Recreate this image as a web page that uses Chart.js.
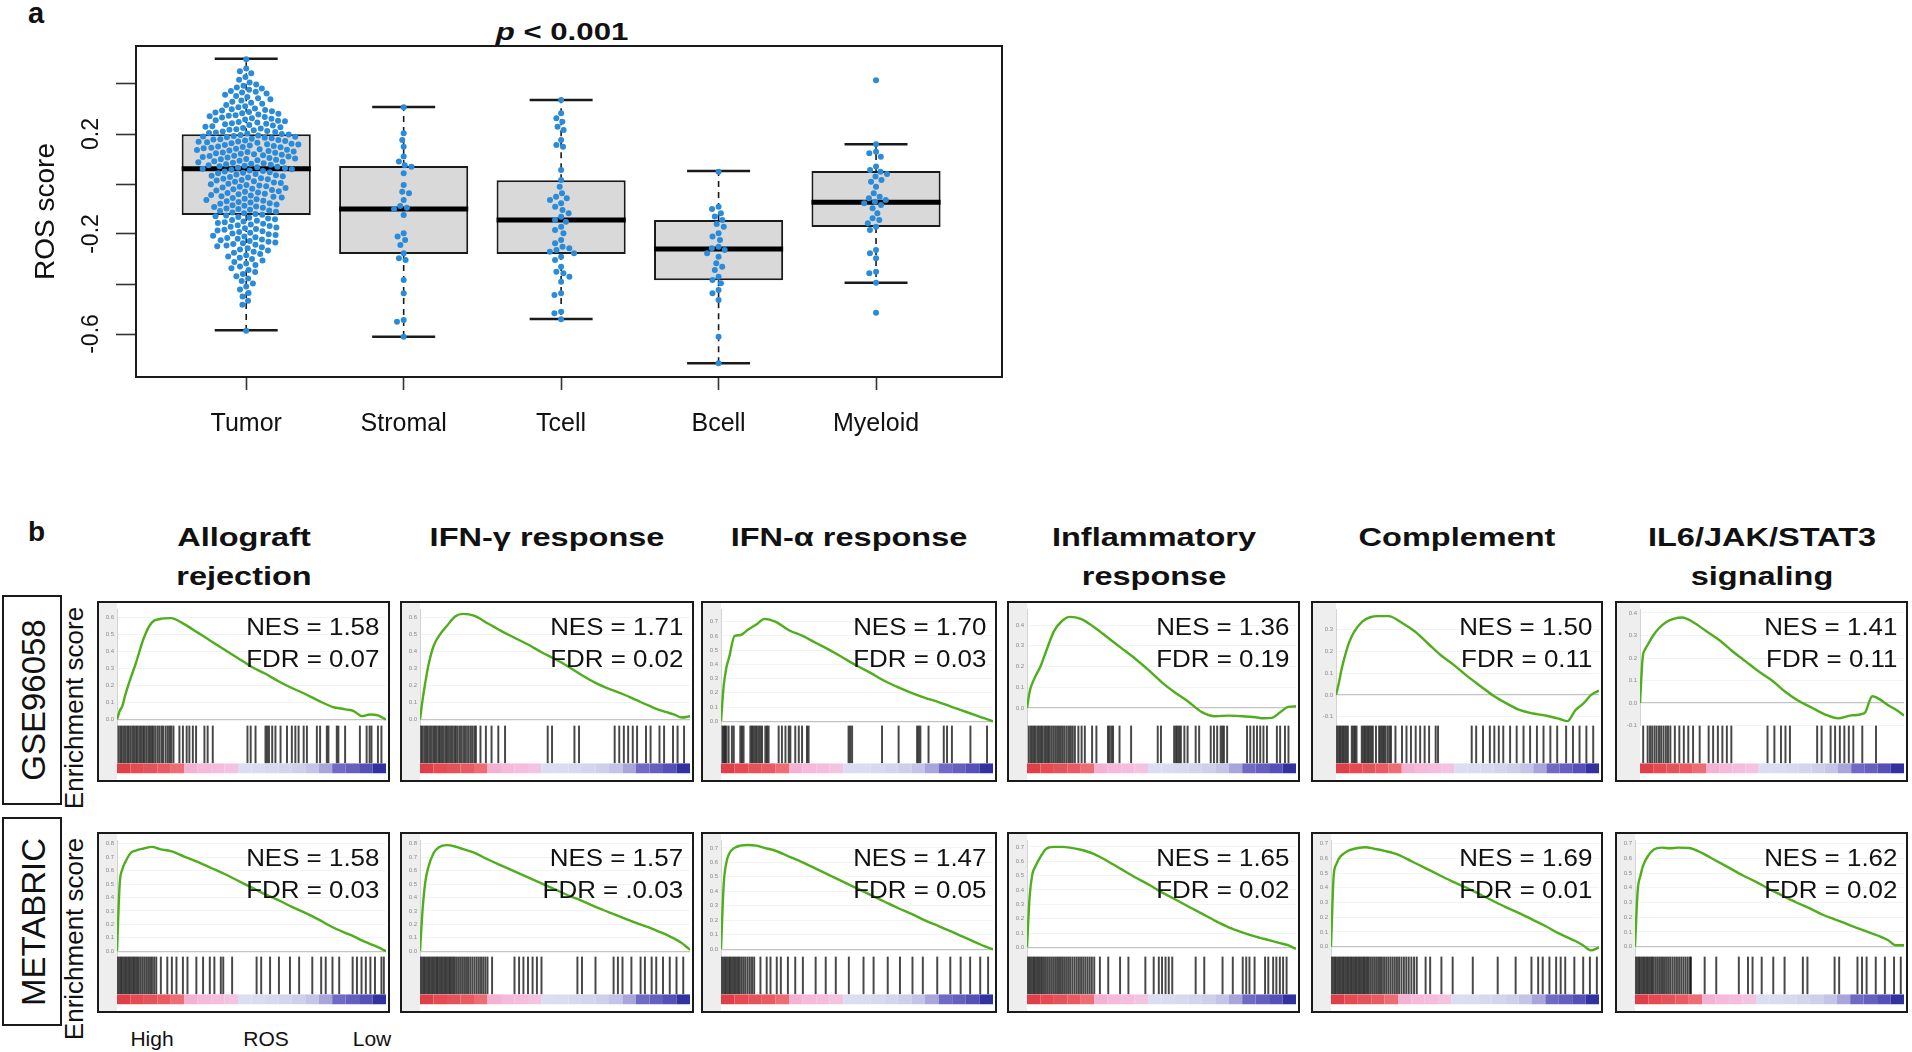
<!DOCTYPE html>
<html>
<head>
<meta charset="utf-8">
<title>ROS score and GSEA</title>
<script src="https://cdn.jsdelivr.net/npm/chart.js@4/dist/chart.umd.min.js"></script>
<style>
html,body{margin:0;padding:0;background:#fff;}
body{width:1912px;height:1052px;position:relative;overflow:hidden;font-family:"Liberation Sans",Arial,Helvetica,sans-serif;color:#111;}
canvas{display:block;}
</style>
</head>
<body>
<script>
// ================= PANEL a DATA =================
const categories = ['Tumor', 'Stromal', 'Tcell', 'Bcell', 'Myeloid'];
const whiskerHigh = [0.501, 0.308, 0.336, 0.052, 0.159];
const quartile3   = [0.199, 0.072, 0.015, -0.144, 0.052];
const medians     = [0.061, -0.100, -0.144, -0.260, -0.073];
const quartile1   = [-0.124, -0.280, -0.280, -0.385, -0.172];
const whiskerLow  = [-0.585, -0.611, -0.540, -0.717, -0.395];

const tumorScores = [
 0.499,0.462,0.451,0.443,0.428,0.417,0.406,
 0.398,0.393,0.386,0.382,0.377,0.372,0.369,0.366,0.362,0.357,0.352,0.348,0.343,0.339,0.334,0.329,0.325,0.321,0.316,0.311,0.307,0.302,
 0.299,0.296,0.294,0.291,0.288,0.286,0.283,0.281,0.278,0.275,0.273,0.271,0.268,0.266,0.263,0.261,0.258,0.255,0.253,0.251,0.248,0.246,0.243,0.241,0.239,0.236,0.234,0.231,0.229,0.227,0.224,0.222,0.219,0.217,0.215,0.212,0.210,0.208,0.206,0.204,0.202,0.200,
 0.198,0.196,0.194,0.192,0.190,0.189,0.187,0.185,0.183,0.181,0.179,0.178,0.176,0.174,0.172,0.170,0.169,0.167,0.165,0.163,0.161,0.159,0.158,0.156,0.154,0.152,0.150,0.148,0.147,0.145,0.143,0.141,0.139,0.137,0.136,0.134,0.132,0.130,0.128,0.126,0.125,0.123,0.121,0.119,0.117,0.115,0.113,0.112,0.110,0.108,0.106,0.104,0.102,0.100,0.099,0.097,0.095,0.093,0.091,0.089,0.087,0.085,0.083,0.081,0.079,0.077,0.075,0.073,0.071,0.069,0.067,0.065,0.063,0.061,
 0.059,0.057,0.054,0.052,0.050,0.047,0.045,0.043,0.040,0.038,0.035,0.033,0.031,0.028,0.026,0.023,0.021,0.019,0.016,0.014,0.011,0.009,0.006,0.004,0.001,-0.001,-0.004,-0.006,-0.009,-0.011,-0.014,-0.016,-0.019,-0.021,-0.024,-0.026,-0.029,-0.031,-0.034,-0.036,-0.039,-0.041,-0.044,-0.046,-0.049,-0.051,-0.054,-0.056,-0.059,-0.061,-0.064,-0.067,-0.069,-0.072,-0.074,-0.077,-0.079,-0.082,-0.085,-0.087,-0.090,-0.092,-0.095,-0.098,-0.100,-0.103,-0.106,-0.108,-0.111,-0.114,-0.117,-0.120,-0.123,
 -0.126,-0.129,-0.132,-0.135,-0.138,-0.141,-0.144,-0.147,-0.150,-0.153,-0.156,-0.159,-0.162,-0.165,-0.168,-0.171,-0.174,-0.177,-0.180,-0.183,-0.186,-0.189,-0.192,-0.195,-0.198,-0.201,-0.204,-0.207,-0.210,-0.213,-0.216,-0.219,-0.222,-0.225,-0.228,-0.231,-0.234,-0.237,-0.240,-0.243,-0.246,-0.249,
 -0.253,-0.257,-0.262,-0.266,-0.271,-0.275,-0.280,-0.285,-0.290,-0.295,-0.300,-0.306,-0.312,-0.318,-0.324,-0.330,-0.337,-0.344,
 -0.352,-0.360,-0.369,-0.378,-0.388,-0.398,-0.410,-0.422,-0.436,-0.450,
 -0.467,-0.483,-0.587
];
const stromalScores = [0.307,0.203,0.176,0.149,0.110,0.090,0.075,0.069,0.043,-0.004,-0.031,-0.037,-0.064,-0.088,-0.095,-0.100,-0.124,-0.197,-0.210,-0.224,-0.244,-0.277,-0.297,-0.304,-0.384,-0.437,-0.544,-0.551,-0.611];
const tcellScores = [0.336,0.283,0.263,0.249,0.229,0.216,0.176,0.156,0.149,0.056,0.016,-0.011,-0.037,-0.051,-0.057,-0.064,-0.077,-0.091,-0.104,-0.117,-0.131,-0.144,-0.151,-0.171,-0.184,-0.197,-0.224,-0.237,-0.251,-0.257,-0.264,-0.271,-0.277,-0.291,-0.304,-0.331,-0.351,-0.357,-0.371,-0.391,-0.437,-0.444,-0.511,-0.517,-0.541];
const bcellScores = [0.049,-0.091,-0.100,-0.117,-0.130,-0.144,-0.160,-0.171,-0.197,-0.210,-0.224,-0.251,-0.257,-0.264,-0.277,-0.291,-0.317,-0.331,-0.344,-0.371,-0.384,-0.397,-0.424,-0.437,-0.464,-0.611,-0.717];
const myeloidScores = [0.415,0.159,0.129,0.123,0.109,0.070,0.056,0.049,0.040,0.030,0.016,0.009,-0.011,-0.037,-0.051,-0.057,-0.064,-0.071,-0.077,-0.084,-0.097,-0.117,-0.137,-0.144,-0.157,-0.171,-0.184,-0.264,-0.277,-0.297,-0.351,-0.357,-0.395,-0.515];

const yTickMarks  = [0.4, 0.2, 0, -0.2, -0.4, -0.6];
const yTickLabels = [0.2, -0.2, -0.6];
const yRange = [-0.772, 0.552];
const xRange = [0.3, 5.8];
const yTitle = 'ROS score';
const pLabel = 'p';
const pRest = ' < 0.001';

// ================= PANEL b DATA =================
const gseaTitles = [['Allograft','rejection'], ['IFN-γ response'], ['IFN-α response'], ['Inflammatory','response'], ['Complement'], ['IL6/JAK/STAT3','signaling']];
const cohorts = ['GSE96058', 'METABRIC'];
const nesValues = [['1.58','1.71','1.70','1.36','1.50','1.41'], ['1.58','1.57','1.47','1.65','1.69','1.62']];
const fdrValues = [['0.07','0.02','0.03','0.19','0.11','0.11'], ['0.03','.0.03','0.05','0.02','0.01','0.02']];
const rankAxisLabels = ['High', 'ROS', 'Low'];

// running-sum positions (% of ranked list)
const rankPositions = [0,1,2,3,5,7,10,13,16,20,25,30,35,40,45,50,55,60,65,70,75,80,85,88,91,94,97,100];

const esAllograftGSE   = [0,.05,.08,.14,.24,.33,.48,.57,.59,.595,.56,.51,.46,.41,.36,.31,.27,.225,.185,.15,.11,.075,.06,.05,.02,.03,.025,0];
const esIfngGSE        = [0,.12,.22,.31,.43,.49,.55,.605,.62,.61,.565,.52,.48,.44,.395,.355,.31,.26,.215,.18,.15,.115,.08,.06,.045,.03,.012,.02];
const esIfnaGSE        = [0,.25,.38,.45,.6,.605,.645,.68,.72,.70,.64,.6,.55,.5,.445,.39,.34,.285,.24,.2,.165,.135,.1,.08,.06,.04,.02,0];
const esInflamGSE      = [0,.08,.12,.15,.20,.27,.37,.42,.44,.43,.39,.34,.29,.24,.185,.125,.075,.03,-.02,-.04,-.037,-.04,-.045,-.05,-.048,-.022,.005,.008];
const esComplementGSE  = [0,.05,.11,.16,.24,.29,.335,.355,.36,.36,.33,.29,.235,.18,.135,.085,.04,-.005,-.04,-.07,-.085,-.095,-.11,-.12,-.07,-.04,0,.02];
const esIl6GSE         = [0,.2,.24,.26,.3,.33,.36,.375,.38,.36,.32,.28,.23,.185,.14,.1,.05,.01,-.02,-.05,-.068,-.055,-.045,.03,.015,-.01,-.03,-.055];
const esAllograftMB    = [0,.5,.61,.66,.73,.75,.765,.777,.76,.745,.705,.665,.62,.575,.525,.475,.425,.38,.33,.285,.235,.18,.135,.11,.08,.055,.03,0];
const esIfngMB         = [0,.32,.52,.62,.73,.775,.79,.78,.76,.735,.685,.64,.595,.55,.505,.46,.415,.375,.33,.29,.25,.21,.175,.15,.125,.095,.06,.01];
const esIfnaMB         = [0,.45,.6,.66,.7,.715,.72,.715,.7,.68,.64,.6,.555,.51,.465,.42,.375,.33,.285,.245,.2,.16,.12,.095,.07,.045,.02,0];
const esInflamMB       = [0,.36,.51,.56,.63,.685,.70,.70,.695,.68,.65,.6,.545,.49,.44,.385,.335,.285,.235,.185,.14,.105,.075,.06,.045,.03,.015,-.01];
const esComplementMB   = [0,.48,.56,.6,.635,.655,.67,.675,.665,.65,.625,.58,.535,.49,.445,.405,.36,.315,.27,.23,.185,.14,.09,.065,.04,.01,-.025,-.005];
const esIl6MB          = [0,.38,.48,.55,.62,.66,.672,.668,.672,.67,.635,.585,.535,.485,.44,.39,.345,.3,.26,.215,.18,.145,.11,.09,.07,.045,.01,.01];

// gene-set hit positions (% of ranked list)
const hitsAllograftGSE = [0.5,1.2,1.8,2.5,3.1,3.8,4.4,5.1,5.8,6.4,7.1,7.7,8.4,9.0,9.7,10.3,11.0,11.7,12.3,13.0,13.6,14.3,15.1,15.8,16.6,17.2,18.1,18.9,19.6,20.2,21.0,23.2,24.5,25.9,26.9,28.2,29.4,32.5,33.7,35.6,48.5,49.7,51.5,55.2,55.8,56.5,57.7,58.9,60.8,63.2,65.0,66.3,67.5,69.4,70.6,74.3,75.5,78.0,78.6,81.7,82.3,84.8,90.3,92.8,93.9,94.6,97.0,98.3];
const hitsIfngGSE = [0.4,1.0,1.7,2.3,2.9,3.6,4.2,4.9,5.5,6.1,6.8,7.4,8.1,8.7,9.4,10.0,10.7,11.4,12.0,12.7,13.3,14.0,14.8,15.5,16.3,17.0,17.8,18.6,19.3,20.1,20.7,22.4,24.4,26.5,29.0,31.5,47.3,48.9,57.2,58.9,72.1,73.8,75.5,77.1,78.8,80.4,83.7,85.4,88.7,90.4,93.7,95.4,97.8];
const hitsIfnaGSE = [0.5,1.0,1.5,2.0,2.8,4.0,4.7,7.1,7.7,8.3,10.8,11.4,12.0,12.6,13.2,13.9,14.5,15.1,16.3,16.9,17.5,21.2,22.4,23.7,24.9,25.5,27.3,28.6,29.8,31.6,32.2,46.9,47.5,48.2,59.2,65.3,72.1,72.7,73.3,76.3,81.9,83.1,84.9,91.7,97.8];
const hitsInflamGSE = [0.6,1.3,1.9,2.6,3.2,3.9,4.5,5.2,5.8,6.5,7.1,7.8,8.4,9.1,9.8,10.5,11.2,11.9,12.6,13.3,14.0,14.8,15.6,16.3,17.0,17.8,19.1,20.3,21.5,24.2,25.8,30.1,30.7,31.4,32.0,34.4,38.7,48.6,49.8,54.7,55.4,56.0,56.6,57.2,58.5,59.7,62.7,64.0,68.3,69.5,70.7,72.0,72.6,73.2,74.4,81.8,83.0,84.3,85.5,86.7,87.9,89.2,92.9,94.1,95.9,97.2];
const hitsComplementGSE = [0.3,0.9,1.5,2.1,2.7,3.3,3.9,4.5,6.0,6.6,7.2,7.8,9.8,10.4,11.0,11.6,12.2,12.8,13.4,14.0,15.2,16.4,17.0,17.6,18.2,18.8,19.6,20.3,20.9,22.6,25.1,26.8,28.5,30.3,32.0,33.7,35.4,37.9,38.8,51.6,53.3,55.9,58.5,60.2,61.9,63.6,66.2,68.7,71.3,73.8,76.4,78.9,81.5,84.1,87.5,90.1,92.6,95.2,97.8];
const hitsIl6GSE = [1.2,2.9,3.8,4.6,5.5,6.3,7.2,8.0,8.9,9.8,10.6,11.5,13.2,14.9,16.6,18.3,20.1,22.6,26.0,27.7,29.5,31.2,32.9,34.6,48.3,50.9,53.4,55.1,56.8,67.1,68.8,72.2,73.9,75.7,77.4,79.1,80.8,84.2,89.4];
const hitsAllograftMB = [0.3,0.9,1.5,2.1,2.7,3.3,3.9,4.5,5.1,5.7,6.3,6.9,7.5,8.1,8.8,9.5,10.2,10.9,11.6,12.3,13.0,13.8,14.6,16.3,18.7,20.4,22.1,24.5,26.2,29.5,32.0,34.5,36.2,38.6,39.5,42.8,51.9,53.6,56.9,60.2,64.3,67.7,72.6,75.9,77.6,80.1,82.6,87.6,89.2,90.9,92.5,94.2,95.9,98.3,99.2];
const hitsIfngMB = [0.3,0.9,1.5,2.1,2.7,3.3,3.9,4.5,5.1,5.7,6.3,6.9,7.5,8.1,8.7,9.3,9.9,10.5,11.1,11.7,12.3,12.9,13.6,14.3,15.0,15.7,16.4,17.1,17.8,18.6,19.4,20.2,21.0,21.8,22.6,23.4,24.2,25.0,26.7,35.0,36.7,38.3,40.0,41.7,43.3,45.0,58.3,60.0,65.0,71.7,73.3,75.0,78.3,81.7,83.3,85.8,87.5,90.0,92.5,95.0,97.5];
const hitsIfnaMB = [0.3,0.9,1.5,2.1,2.7,3.3,3.9,4.5,5.1,5.7,6.3,6.9,7.6,8.3,9.0,9.8,10.6,11.4,12.2,14.5,16.8,18.2,20.5,22.0,24.6,27.3,30.1,34.8,38.5,42.2,47.0,52.4,56.1,61.3,65.8,70.4,74.2,79.5,84.3,88.1,91.6,95.3,98.2];
const hitsInflamMB = [0.2,0.8,1.4,2.0,2.6,3.2,3.8,4.4,5.0,5.6,6.3,7.0,7.7,8.4,9.1,9.8,10.5,11.2,11.9,12.6,13.3,14.0,14.7,15.4,16.1,16.9,17.7,18.5,19.3,20.1,20.9,21.7,22.5,23.3,24.1,25.0,27.1,30.2,34.6,37.7,44.0,47.1,49.0,50.2,51.5,52.7,54.0,62.7,65.9,72.7,76.5,80.2,81.5,82.7,84.6,88.5,89.7,91.5,92.7,94.0,95.2,96.5];
const hitsComplementMB = [0.3,0.9,1.5,2.1,2.7,3.3,3.9,4.5,5.1,5.7,6.3,6.9,7.5,8.1,8.7,9.3,9.9,10.5,11.1,11.7,12.3,12.9,13.5,14.1,14.8,15.5,16.2,16.9,17.6,18.3,19.0,19.8,20.6,21.4,22.2,23.0,23.8,24.6,25.4,26.3,27.2,28.1,29.0,30.0,31.0,32.0,35.3,37.0,41.2,45.4,52.9,62.2,68.9,74.8,77.3,79.0,81.5,84.0,85.7,87.4,90.8,94.1,96.6,99.2];
const hitsIl6MB = [0.3,0.9,1.5,2.1,2.7,3.3,3.9,4.5,5.1,5.7,6.3,6.9,7.6,8.3,9.0,9.7,10.4,11.1,11.8,12.5,13.2,14.0,14.8,15.6,16.4,17.2,18.0,18.8,19.6,20.4,20.8,25.9,30.2,38.6,42.0,43.7,47.1,51.4,55.6,62.4,64.1,74.2,75.9,82.7,84.4,86.1,89.5,92.9,96.3,98.8];

// ES axis ticks and ranges
const esTicks = [
  [[0,.1,.2,.3,.4,.5,.6],[0,.1,.2,.3,.4,.5,.6],[0,.1,.2,.3,.4,.5,.6,.7],[0,.1,.2,.3,.4],[-.1,0,.1,.2,.3],[-.1,0,.1,.2,.3,.4]],
  [[0,.1,.2,.3,.4,.5,.6,.7,.8],[0,.1,.2,.3,.4,.5,.6,.7,.8],[0,.1,.2,.3,.4,.5,.6,.7],[0,.1,.2,.3,.4,.5,.6,.7],[0,.1,.2,.3,.4,.5,.6,.7],[0,.1,.2,.3,.4,.5,.6,.7]]
];
const esRanges = [
  [[-0.035,0.645],[-0.035,0.645],[-0.03,0.785],[-0.085,0.475],[-0.14,0.39],[-0.10,0.415]],
  [[-0.04,0.824],[-0.04,0.824],[-0.05,0.75],[-0.064,0.744],[-0.067,0.72],[-0.067,0.72]]
];

// ranked-list metric colour bar
const colorStops = [0,5,10,15,20,25,30,35,40,45,50,55,60,65,70,75,80,85,90,95,100];
const rankColors = ['#de3f49','#e84a52','#e4525a','#ea5a62','#ee6c74','#f3b2d2','#f5b9d9','#f5bddb','#f2c4df','#dcdcf2','#dbdbf1','#d8d8f0','#d4d4ee','#cfcfec','#c5c3e7','#a9a5db','#6f6bc5','#6460c0','#5450b8','#3131a0'];

const esSeries = [
  [esAllograftGSE, esIfngGSE, esIfnaGSE, esInflamGSE, esComplementGSE, esIl6GSE],
  [esAllograftMB, esIfngMB, esIfnaMB, esInflamMB, esComplementMB, esIl6MB]
];
const hitSeries = [
  [hitsAllograftGSE, hitsIfngGSE, hitsIfnaGSE, hitsInflamGSE, hitsComplementGSE, hitsIl6GSE],
  [hitsAllograftMB, hitsIfngMB, hitsIfnaMB, hitsInflamMB, hitsComplementMB, hitsIl6MB]
];

// ================= LAYOUT / STYLE =================
const FONT = '"Liberation Sans", Arial, Helvetica, sans-serif';
const BODY = document.body;
function el(tag, css, html){ const d=document.createElement(tag); if(css) d.style.cssText=css; if(html!==undefined) d.innerHTML=html; BODY.appendChild(d); return d; }
function textAt(html, x, base, size, opts){
  opts = opts||{};
  const top = base - 0.8465*size;
  const align = opts.align||'left';
  let tf = '';
  if(align==='center') tf += 'translateX(-50%) ';
  if(align==='right') tf += 'translateX(-100%) ';
  if(opts.sx) tf += 'scaleX('+opts.sx+')';
  const origin = align==='center'?'center':(align==='right'?'right':'left');
  return el('div', `position:absolute;white-space:nowrap;line-height:1;left:${x}px;top:${top}px;font-size:${size}px;font-weight:${opts.bold?'bold':'normal'};transform:${tf||'none'};transform-origin:${origin} center;font-family:${FONT};color:#111;`, html);
}
function rotText(str, cx, cy, size, bold){
  return el('div', `position:absolute;white-space:nowrap;line-height:1;left:${cx}px;top:${cy}px;font-size:${size}px;font-weight:${bold?'bold':'normal'};transform:translate(-50%,-50%) rotate(-90deg);font-family:${FONT};color:#111;`, str);
}

// ================= PANEL a =================
textAt('a', 28, 24, 29, {bold:true});
textAt('<i>'+pLabel+'</i>'+pRest.replace('<','&lt;'), 562, 40, 24, {bold:true, align:'center', sx:1.3});

const wrapA = el('div', 'position:absolute;left:0;top:0;width:1020px;height:460px;');
const cA = document.createElement('canvas'); cA.width=1020; cA.height=460; cA.style.width='1020px'; cA.style.height='460px'; wrapA.appendChild(cA);

const BOX_HALF = 0.41, CAP_HALF = 0.2;
const whiskerData=[], capData=[], medianData=[];
categories.forEach((c,i)=>{
  const x=i+1;
  whiskerData.push({x,y:quartile3[i]},{x,y:whiskerHigh[i]},{x,y:null},{x,y:quartile1[i]},{x,y:whiskerLow[i]},{x,y:null});
  capData.push({x:x-CAP_HALF,y:whiskerHigh[i]},{x:x+CAP_HALF,y:whiskerHigh[i]},{x,y:null},{x:x-CAP_HALF,y:whiskerLow[i]},{x:x+CAP_HALF,y:whiskerLow[i]},{x,y:null});
  medianData.push({x:x-BOX_HALF,y:medians[i]},{x:x+BOX_HALF,y:medians[i]},{x,y:null});
});
const groups = [tumorScores, stromalScores, tcellScores, bcellScores, myeloidScores];
const initialPts = [];
groups.forEach((vals,gi)=>vals.forEach(v=>initialPts.push({x:gi+1,y:v})));

const frameA = {
  id:'frameA',
  afterDraw(chart){
    const {ctx, chartArea:a, scales:{y}} = chart;
    ctx.save();
    ctx.strokeStyle='#1a1a1a'; ctx.lineWidth=2;
    ctx.strokeRect(a.left, a.top, a.right-a.left, a.bottom-a.top);
    ctx.fillStyle='#111'; ctx.font='23px '+FONT; ctx.textAlign='center'; ctx.textBaseline='middle';
    yTickLabels.forEach(v=>{
      const py=y.getPixelForValue(v);
      ctx.save(); ctx.translate(92, py); ctx.rotate(-Math.PI/2); ctx.fillText(v.toFixed(1),0,0); ctx.restore();
    });
    ctx.restore();
  }
};

const chartA = new Chart(cA, {
  type:'scatter',
  data:{datasets:[
    {type:'bar', data:categories.map((c,i)=>({x:i+1,y:[quartile1[i],quartile3[i]]})), backgroundColor:'#d9d9d9', borderColor:'#1a1a1a', borderWidth:2, borderSkipped:false, barPercentage:0.82, categoryPercentage:1, order:5},
    {type:'line', data:whiskerData, borderColor:'#1a1a1a', borderWidth:1.6, borderDash:[6,5], pointRadius:0, spanGaps:false, order:4},
    {type:'line', data:capData, borderColor:'#1a1a1a', borderWidth:2.6, pointRadius:0, spanGaps:false, order:3},
    {type:'line', data:medianData, borderColor:'#000', borderWidth:5, borderCapStyle:'butt', pointRadius:0, spanGaps:false, order:2},
    {type:'scatter', data:initialPts, backgroundColor:'#2b8bd9', borderWidth:0, pointRadius:3, order:0}
  ]},
  options:{
    responsive:false, animation:false, devicePixelRatio:1,
    layout:{padding:{top:46,right:18,left:0,bottom:0}},
    plugins:{legend:{display:false},tooltip:{enabled:false}},
    scales:{
      x:{type:'linear', min:xRange[0], max:xRange[1], offset:false,
        afterBuildTicks:s=>{s.ticks=categories.map((c,i)=>({value:i+1}));},
        afterFit:s=>{s.height=83;},
        ticks:{autoSkip:false,maxRotation:0,minRotation:0,padding:19,color:'#111',font:{family:FONT,size:25},callback:(v,i)=>categories[i]},
        grid:{display:true,drawOnChartArea:false,drawTicks:true,tickLength:13,tickColor:'#333',tickWidth:1.6,offset:false},
        border:{display:false}},
      y:{type:'linear', min:yRange[0], max:yRange[1],
        afterBuildTicks:s=>{s.ticks=yTickMarks.map(v=>({value:v}));},
        afterFit:s=>{s.width=136;},
        ticks:{display:false},
        grid:{display:true,drawOnChartArea:false,drawTicks:true,tickLength:20,tickColor:'#333',tickWidth:1.6},
        border:{display:false},
        title:{display:true,text:yTitle,color:'#111',font:{family:FONT,size:28},padding:{top:29,bottom:0}}}
    }
  },
  plugins:[frameA]
});

// beeswarm layout (deterministic, pixel space)
function swarm(pys, d){
  const placed=[], out=[];
  for(const y of pys){
    const near=placed.filter(p=>Math.abs(p.y-y)<d);
    const cands=[0];
    near.forEach(p=>{const dx=Math.sqrt(d*d-(p.y-y)*(p.y-y)); cands.push(p.x+dx,p.x-dx);});
    cands.sort((a,b)=>(Math.abs(a)-Math.abs(b))||(a-b));
    let x=0;
    for(const c of cands){
      let ok=true;
      for(const p of near){const dx=p.x-c, dy=p.y-y; if(dx*dx+dy*dy<d*d-0.01){ok=false;break;}}
      if(ok){x=c;break;}
    }
    placed.push({x,y}); out.push(x);
  }
  return out;
}
(function(){
  const xs=chartA.scales.x, ys=chartA.scales.y;
  const ppu = xs.getPixelForValue(2)-xs.getPixelForValue(1);
  const pts=[];
  groups.forEach((vals,gi)=>{
    const offs = swarm(vals.map(v=>ys.getPixelForValue(v)), 6.9);
    vals.forEach((v,k)=>pts.push({x:gi+1+offs[k]/ppu, y:v}));
  });
  chartA.data.datasets[4].data = pts;
  chartA.update('none');
})();

// ================= PANEL b =================
textAt('b', 28, 542, 28, {bold:true});

const colLeft = [97, 400, 701, 1007, 1311, 1615];
const colWidth = [293, 294, 296, 293, 292, 293];
const rowTop = [601, 832];
const rowHeight = 181;

gseaTitles.forEach((lines,c)=>{
  const cx = colLeft[c] + colWidth[c]/2;
  lines.forEach((ln,k)=>{ textAt(ln, cx, 546 + 39*k, 26, {bold:true, align:'center', sx:1.25}); });
});

const headerBoxes = [[2,595,60,210],[2,817,60,209]];
cohorts.forEach((name,r)=>{
  const [x,y,w,h] = headerBoxes[r];
  el('div', `position:absolute;box-sizing:border-box;left:${x}px;top:${y}px;width:${w}px;height:${h}px;border:2px solid #1a1a1a;`);
  rotText(name, x+w/2+1, y+h/2, 33, false);
  rotText('Enrichment score', 74, rowTop[r]+rowHeight/2+16, 26, false);
});

const stripBg = {
  id:'stripBg',
  beforeDraw(chart){
    const {ctx, chartArea:a} = chart;
    ctx.save(); ctx.fillStyle='#eeeeee'; ctx.fillRect(0,0,a.left,chart.height); ctx.restore();
  }
};

function makeGsea(canvas, es, hits, ticks, range, axisW){
  return new Chart(canvas, {
    type:'line',
    data:{datasets:[
      {type:'line', data:rankPositions.map((x,i)=>({x,y:es[i]})), yAxisID:'yES', borderColor:'#4fae1c', borderWidth:2.4, pointRadius:0, cubicInterpolationMode:'monotone', order:0},
      {type:'bar', data:hits.map(x=>({x,y:1})), yAxisID:'yHit', backgroundColor:'rgba(0,0,0,0.72)', barThickness:1.3, grouped:false, order:1},
      {type:'line', data:colorStops.map(x=>({x,y:0.5})), yAxisID:'yCol', borderColor:rankColors[0], borderCapStyle:'butt', pointRadius:0,
        borderWidth:ctx=>{const s=ctx.chart.scales.yCol; return s?Math.max(1,s.bottom-s.top):10;},
        segment:{borderColor:c=>rankColors[c.p0DataIndex]}, order:2}
    ]},
    options:{
      responsive:false, animation:false, devicePixelRatio:1,
      layout:{padding:{top:1,right:2,bottom:1,left:0}},
      plugins:{legend:{display:false},tooltip:{enabled:false}},
      scales:{
        x:{type:'linear', min:0, max:100, display:false, offset:false},
        yES:{type:'linear', position:'left', stack:'gsea', stackWeight:126, weight:3, min:range[0], max:range[1],
          afterBuildTicks:s=>{s.ticks=ticks.map(v=>({value:v}));},
          afterFit:s=>{s.width=axisW;},
          ticks:{font:{family:FONT,size:6},color:'#8a8a8a',padding:3,autoSkip:false,callback:v=>Number(v).toFixed(1)},
          grid:{drawTicks:false,color:c=>(c.tick&&Math.abs(c.tick.value)<1e-9)?'#c4c4c4':'#f3f3f3',lineWidth:c=>(c.tick&&Math.abs(c.tick.value)<1e-9)?1.3:1},
          border:{display:true,color:'#d4d4d4'}},
        yHit:{type:'linear', position:'left', stack:'gsea', stackWeight:41, weight:2, min:0, max:1,
          afterFit:s=>{s.width=axisW;}, ticks:{display:false}, grid:{display:false}, border:{display:false}},
        yCol:{type:'linear', position:'left', stack:'gsea', stackWeight:11, weight:1, min:0, max:1,
          afterFit:s=>{s.width=axisW;}, ticks:{display:false}, grid:{display:false}, border:{display:false}}
      }
    },
    plugins:[stripBg]
  });
}

for(let r=0;r<2;r++){
  for(let c=0;c<6;c++){
    const L=colLeft[c], T=rowTop[r], W=colWidth[c], H=rowHeight;
    const box = el('div', `position:absolute;box-sizing:border-box;left:${L}px;top:${T}px;width:${W}px;height:${H}px;border:2px solid #1a1a1a;background:#fff;`);
    const cv = document.createElement('canvas');
    cv.width=W-4; cv.height=H-4; cv.style.width=(W-4)+'px'; cv.style.height=(H-4)+'px';
    box.appendChild(cv);
    const hasNeg = esTicks[r][c][0] < 0;
    makeGsea(cv, esSeries[r][c], hitSeries[r][c], esTicks[r][c], esRanges[r][c], hasNeg?23:18);
    el('div', `position:absolute;white-space:nowrap;right:${1912-(L+W-11)}px;top:${T+9.5}px;font-size:24px;line-height:32px;text-align:right;transform:scaleX(1.08);transform-origin:right center;font-family:${FONT};color:#111;`,
      'NES = '+nesValues[r][c]+'<br>FDR = '+fdrValues[r][c]);
  }
}

const rankLabelX = [152, 266, 372];
rankAxisLabels.forEach((s,i)=>textAt(s, rankLabelX[i], 1045.5, 21, {align:'center'}));
</script>
</body>
</html>
